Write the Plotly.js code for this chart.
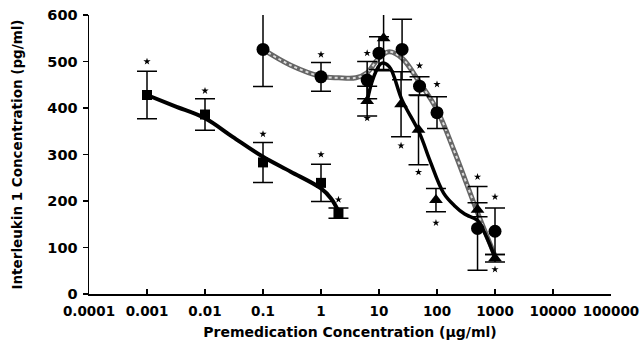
<!DOCTYPE html>
<html>
<head>
<meta charset="utf-8">
<script src="https://cdn.plot.ly/plotly-3.0.1.min.js"></script>
<style>html,body{margin:0;padding:0;background:#fff;}#chart{width:640px;height:346px;}</style>
</head>
<body>
<div id="chart"></div>
<script>
// ---- data ----
var tickVals = [0.0001, 0.001, 0.01, 0.1, 1, 10, 100, 1000, 10000, 100000];
var tickText = ["0.0001", "0.001", "0.01", "0.1", "1", "10", "100", "1000", "10000", "100000"];
var yTickVals = [0, 100, 200, 300, 400, 500, 600];

// squares
var sqX = [0.001, 0.01, 0.1, 1, 2];
var sqY = [428, 386, 283, 239, 174];
var sqErr = [51, 34, 43, 40, 11];
var sqStarX = [0.001, 0.01, 0.1, 1, 2];
var sqStarY = [500, 437, 344, 300, 203];
var sqCurveX = [0.001, 0.003, 0.01, 0.03, 0.1, 0.3, 1, 1.5, 2];
var sqCurveY = [428, 404, 378, 338, 295, 263, 227, 205, 178];

// circles
var ciX = [0.1, 1, 6.25, 10, 25, 50, 100, 500, 1000];
var ciY = [526, 467, 460, 518, 526, 447, 390, 141, 135];
var ciErr = [80, 31, 40, 35, 65, 20, 34, 90, 50];
var ciStarX = [1, 6.25, 50, 100, 500, 1000];
var ciStarY = [515, 518, 491, 451, 252, 209];
var ciCurveX = [0.1, 0.3, 1, 2, 4, 6.25, 10, 15, 25, 50, 100, 200, 500, 1000];
var ciCurveY = [526, 492, 468, 465, 465, 476, 508, 521, 507, 455, 396, 306, 175, 82];

// triangles
var trX = [6.25, 12, 24, 48, 96, 500, 1000];
var trY = [415, 550, 408, 353, 202, 181, 77];
var trErr = [32, 70, 70, 75, 25, 15, 8];
var trStarX = [6.25, 24, 48, 96, 1000];
var trStarY = [378, 319, 262, 153, 53];
var trCurveX = [6.25, 8, 11, 15, 25, 50, 75, 130, 200, 300, 500, 700, 1000];
var trCurveY = [415, 465, 496, 489, 417, 346, 288, 217, 190, 172, 158, 125, 78];

// small dashes under the x axis at the upper decades
var dashX = [1, 10, 100, 1000, 10000];
var dashY = [-5, -5, -5, -5, -5];

var FONT = 'DejaVu Sans, Liberation Sans, Arial, sans-serif';

var traces = [
  {x: ciCurveX, y: ciCurveY, mode: 'lines', line: {shape: 'spline', color: '#666', width: 5}, hoverinfo: 'skip'},
  {x: ciCurveX, y: ciCurveY, mode: 'lines', line: {shape: 'spline', color: '#dcdcdc', width: 2, dash: 'dot'}, hoverinfo: 'skip'},
  {x: sqCurveX, y: sqCurveY, mode: 'lines', line: {shape: 'spline', color: '#000', width: 4}, hoverinfo: 'skip'},
  {x: trCurveX, y: trCurveY, mode: 'lines', line: {shape: 'spline', color: '#000', width: 3.5}, hoverinfo: 'skip'},
  {x: sqX, y: sqY, mode: 'markers', marker: {symbol: 'square', size: 10, color: '#000'},
   error_y: {type: 'data', array: sqErr, visible: true, color: '#000', thickness: 1.5, width: 10}},
  {x: ciX, y: ciY, mode: 'markers', marker: {symbol: 'circle', size: 13, color: '#000'},
   error_y: {type: 'data', array: ciErr, visible: true, color: '#000', thickness: 1.5, width: 10}},
  {x: trX, y: trY, mode: 'markers', marker: {symbol: 'triangle-up', size: 12, color: '#000'},
   error_y: {type: 'data', array: trErr, visible: true, color: '#000', thickness: 1.5, width: 10}},
  {x: sqStarX.concat(ciStarX, trStarX), y: sqStarY.concat(ciStarY, trStarY), mode: 'markers',
   marker: {symbol: 'star', size: 5.5, color: '#000'}},
  {x: dashX, y: dashY, mode: 'markers', cliponaxis: false,
   marker: {symbol: 'line-ew', size: 15, line: {color: '#000', width: 2}}}
];

var layout = {
  width: 640, height: 346,
  margin: {l: 89, r: 29, t: 15, b: 52},
  paper_bgcolor: '#fff', plot_bgcolor: '#fff',
  showlegend: false,
  font: {family: FONT, color: '#000'},
  xaxis: {
    type: 'log', range: [-4, 5],
    tickvals: tickVals, ticktext: tickText,
    ticks: 'inside', ticklen: 5, tickwidth: 1.2, tickcolor: '#000',
    ticklabelstandoff: 4,
    showline: true, linecolor: '#000', linewidth: 1.5,
    showgrid: false, zeroline: false,
    tickfont: {size: 13.5, family: FONT, weight: 'bold'},
    title: {text: 'Premedication Concentration (\u03bcg/ml)', standoff: 9,
            font: {size: 14, family: FONT, weight: 'bold'}}
  },
  yaxis: {
    range: [0, 600], tickvals: yTickVals,
    ticks: 'outside', ticklen: 5, tickwidth: 1.2, tickcolor: '#000',
    ticklabelstandoff: 2,
    showline: true, linecolor: '#000', linewidth: 1.5,
    showgrid: false, zeroline: false,
    tickfont: {size: 14.5, family: FONT, weight: 'bold'},
    title: {text: 'Interleukin 1 Concentration (pg/ml)', standoff: 21,
            font: {size: 13.5, family: FONT, weight: 'bold'}}
  }
};

Plotly.newPlot('chart', traces, layout, {displayModeBar: false, staticPlot: true});
</script>
</body>
</html>
